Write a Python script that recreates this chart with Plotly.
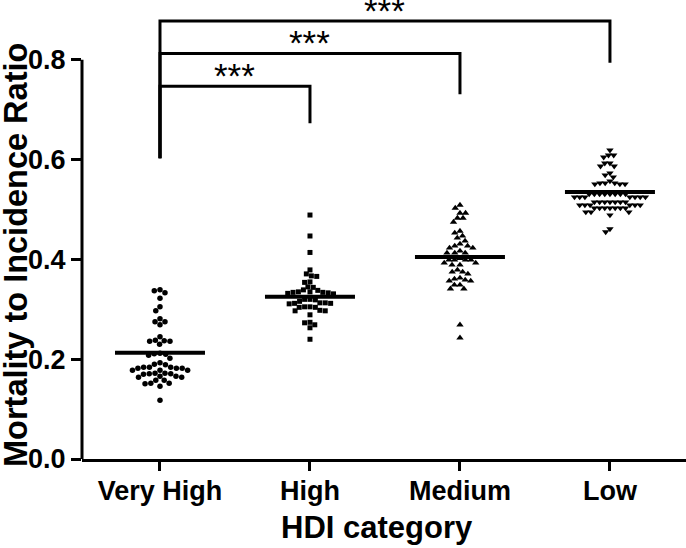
import math
import plotly.graph_objects as go

categories = ["Very High", "High", "Medium", "Low"]

very_high = [0.339, 0.337, 0.333, 0.322, 0.305, 0.297, 0.281, 0.275, 0.275, 0.269,
             0.245, 0.238, 0.237, 0.236, 0.236, 0.230, 0.212, 0.211, 0.210, 0.208,
             0.202, 0.193, 0.190, 0.189, 0.184, 0.184, 0.184, 0.182, 0.182, 0.182,
             0.178, 0.178, 0.178, 0.172, 0.172, 0.171, 0.171, 0.170, 0.166, 0.166,
             0.164, 0.164, 0.158, 0.158, 0.152, 0.152, 0.151, 0.146, 0.118]
high = [0.489, 0.447, 0.414, 0.379, 0.371, 0.367, 0.366, 0.355, 0.354, 0.345,
        0.344, 0.339, 0.338, 0.335, 0.335, 0.334, 0.334, 0.333, 0.332, 0.331,
        0.320, 0.320, 0.319, 0.316, 0.313, 0.313, 0.312, 0.312, 0.311, 0.305,
        0.305, 0.304, 0.304, 0.298, 0.297, 0.297, 0.289, 0.274, 0.273, 0.269,
        0.263, 0.240]
medium = [0.509, 0.503, 0.493, 0.493, 0.483, 0.483, 0.475, 0.457, 0.453, 0.447,
          0.443, 0.437, 0.431, 0.427, 0.427, 0.423, 0.423, 0.417, 0.413, 0.413,
          0.413, 0.402, 0.399, 0.399, 0.399, 0.399, 0.393, 0.393, 0.389, 0.389,
          0.379, 0.375, 0.375, 0.371, 0.363, 0.361, 0.359, 0.357, 0.357, 0.349,
          0.349, 0.341, 0.341, 0.269, 0.243]
low = [0.619, 0.609, 0.609, 0.605, 0.593, 0.593, 0.587, 0.587, 0.573, 0.569,
       0.565, 0.557, 0.553, 0.553, 0.553, 0.551, 0.551, 0.551,
       0.531, 0.531, 0.531, 0.531, 0.531, 0.531, 0.531, 0.531,
       0.525, 0.525, 0.525, 0.525, 0.525, 0.525, 0.525,
       0.515, 0.515, 0.515, 0.515, 0.515, 0.515, 0.515,
       0.509, 0.509, 0.509, 0.509, 0.509, 0.509,
       0.503, 0.503, 0.503, 0.503, 0.503, 0.503, 0.503,
       0.495, 0.495, 0.495, 0.489, 0.461, 0.455]

group_values = [very_high, high, medium, low]
mean_values = [0.213, 0.325, 0.405, 0.535]
symbols = ["circle", "square", "triangle-up", "triangle-down"]

# significance brackets: (from category, to category), bar height, right leg end
bracket_pairs = [(0, 1), (0, 2), (0, 3)]
bracket_heights = [0.747, 0.813, 0.878]
bracket_right_ends = [0.673, 0.731, 0.794]
bracket_left_end = 0.603
bracket_labels = ["***", "***", "***"]

y_ticks = [0.0, 0.2, 0.4, 0.6, 0.8]

x_title = "HDI category"
y_title = "Mortality to Incidence Ratio"

# ---- layout constants ----
W, H = 686, 548
ML, MR, MT, MB = 82, 0, 0, 89
PW, PH = W - ML - MR, H - MT - MB
x_range = [-0.52, 3.507]
y_range = [0.0, 0.92]
px_x = PW / (x_range[1] - x_range[0])
px_y = PH / (y_range[1] - y_range[0])


def beeswarm(values, d=5.6):
    placed = []
    order = sorted(range(len(values)), key=lambda i: -values[i])
    offsets = [0.0] * len(values)
    for i in order:
        y = values[i] * px_y
        cands = [0.0]
        for (px, py) in placed:
            dy = abs(py - y)
            if dy < d:
                dx = math.sqrt(d * d - dy * dy)
                cands += [px + dx, px - dx]
        cands.sort(key=lambda c: (abs(c), c))
        for c in cands:
            ok = True
            for (px, py) in placed:
                if (px - c) ** 2 + (py - y) ** 2 < d * d - 1e-6:
                    ok = False
                    break
            if ok:
                offsets[i] = c
                placed.append((c, y))
                break
    return [o / px_x for o in offsets]


swarm_d = [5.8, 5.4, 5.6, 5.2]
marker_sizes = [5.5, 5, 6.5, 6.5]

fig = go.Figure()
for gi, vals in enumerate(group_values):
    offs = beeswarm(vals, d=swarm_d[gi])
    fig.add_trace(go.Scatter(
        x=[gi + o for o in offs], y=vals, mode="markers",
        marker=dict(symbol=symbols[gi], size=marker_sizes[gi], color="black", line=dict(width=0)),
        showlegend=False, hoverinfo="y", cliponaxis=False))
    fig.add_trace(go.Scatter(
        x=[gi - 0.3, gi + 0.3], y=[mean_values[gi]] * 2, mode="lines",
        line=dict(color="black", width=4), showlegend=False, hoverinfo="skip"))

font_family = "Liberation Sans, Arial, sans-serif"

for (a, b), h, rend, lab in zip(bracket_pairs, bracket_heights, bracket_right_ends, bracket_labels):
    fig.add_trace(go.Scatter(
        x=[a, a, b, b], y=[bracket_left_end, h, h, rend], mode="lines",
        line=dict(color="black", width=3), showlegend=False, hoverinfo="skip",
        cliponaxis=False))
    fig.add_annotation(x=(a + b) / 2, y=h, text=lab, showarrow=False,
                       xanchor="center", yanchor="bottom", yshift=-11,
                       font=dict(size=35, color="black", family=font_family))

# y axis line only from 0 to 0.8
fig.add_shape(type="line", xref="paper", yref="y", x0=0, x1=0, y0=0, y1=y_ticks[-1],
              line=dict(color="black", width=3))

# axis titles placed as annotations (fixed margins)
fig.add_annotation(xref="paper", yref="paper", x=(377 - ML) / PW, y=-(527 - PH) / PH,
                   text=f"<b>{x_title}</b>", showarrow=False, xanchor="center", yanchor="middle",
                   font=dict(size=31, color="black", family=font_family))
fig.add_annotation(xref="paper", yref="paper", x=(16 - ML) / PW, y=(PH - 255) / PH,
                   text=f"<b>{y_title}</b>", showarrow=False, textangle=-90,
                   xanchor="center", yanchor="middle",
                   font=dict(size=32.5, color="black", family=font_family))

fig.update_layout(
    width=W, height=H,
    margin=dict(l=ML, r=MR, t=MT, b=MB, autoexpand=False),
    plot_bgcolor="white", paper_bgcolor="white",
    font=dict(family=font_family, color="black"),
    xaxis=dict(range=x_range, tickvals=list(range(len(categories))), ticktext=categories,
               showline=True, linecolor="black", linewidth=3, ticks="outside",
               ticklen=9, tickwidth=3, tickcolor="black", showgrid=False, zeroline=False,
               automargin=False, ticklabelstandoff=-3,
               tickfont=dict(size=27, family=font_family, weight="bold")),
    yaxis=dict(range=y_range, tickvals=y_ticks, ticktext=[f"{v:.1f}" for v in y_ticks],
               showline=False, ticks="outside", ticklen=10, tickwidth=3, tickcolor="black",
               showgrid=False, zeroline=False, automargin=False,
               tickfont=dict(size=27, family=font_family, weight="bold")),
)

fig.write_html("out.html", config={"displayModeBar": False},
               post_script="document.body.style.margin='0px';")
